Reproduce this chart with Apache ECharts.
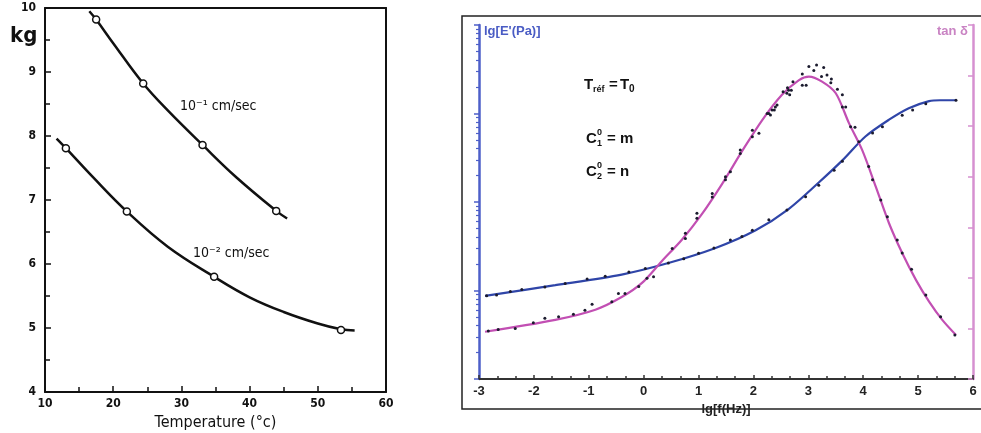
<!DOCTYPE html>
<html><head><meta charset="utf-8">
<script src="https://cdn.jsdelivr.net/npm/echarts@6/dist/echarts.min.js"></script>
<style>html,body{margin:0;padding:0;background:#fff}#c{width:981px;height:433px}</style>
</head><body><div id="c"></div>
<script>
// ---------- Left chart: force (kg) vs temperature ----------
var tempTicks = [10, 20, 30, 40, 50, 60];
var kgTicks = [4, 5, 6, 7, 8, 9, 10];
var upperCurveT = [16.5, 17.5, 20, 24.4, 28, 33.1, 38, 43.9, 45.5];
var upperCurveKg = [9.95, 9.82, 9.45, 8.82, 8.40, 7.86, 7.36, 6.83, 6.71];
var upperMarkT = [17.5, 24.4, 33.1, 43.9];
var upperMarkKg = [9.82, 8.82, 7.86, 6.83];
var lowerCurveT = [11.7, 13.06, 17, 22, 28, 34.8, 40, 45, 50, 53.4, 55.4];
var lowerCurveKg = [7.96, 7.81, 7.36, 6.82, 6.27, 5.80, 5.48, 5.25, 5.07, 4.98, 4.96];
var lowerMarkT = [13.06, 22, 34.8, 53.4];
var lowerMarkKg = [7.81, 6.82, 5.80, 4.97];

// ---------- Right chart: master curves vs lg f ----------
var freqTicks = [-3, -2, -1, 0, 1, 2, 3, 4, 5, 6];
var blueX = [-2.89, -1.61, -0.40, 0.45, 1.31, 2.04, 2.64, 3.19, 3.62, 4.04, 4.47, 4.83, 5.2, 5.4, 5.69];
var blueLgE = [6.94, 7.06, 7.18, 7.31, 7.48, 7.68, 7.92, 8.22, 8.47, 8.74, 8.93, 9.06, 9.14, 9.15, 9.15];
var pinkX = [-2.89, -1.61, -0.88, -0.40, -0.03, 0.33, 0.70, 1.06, 1.43, 1.79, 2.16, 2.52, 2.83, 3.01, 3.25, 3.50, 3.74, 3.98, 4.23, 4.47, 4.71, 4.96, 5.20, 5.44, 5.69];
var pinkTan = [0.0935, 0.117, 0.137, 0.162, 0.190, 0.233, 0.276, 0.326, 0.386, 0.450, 0.512, 0.562, 0.591, 0.598, 0.588, 0.565, 0.506, 0.453, 0.380, 0.308, 0.249, 0.196, 0.153, 0.117, 0.087];
var blueDotX = [-2.86, -2.68, -2.43, -2.22, -1.80, -1.43, -1.03, -0.70, -0.27, 0.03, 0.45, 0.73, 1.0, 1.28, 1.58, 1.79, 1.98, 2.28, 2.61, 2.95, 3.19, 3.47, 3.62, 3.92, 4.17, 4.35, 4.71, 4.90, 5.14, 5.69];
var blueDotE = [6.94, 6.95, 6.99, 7.01, 7.04, 7.08, 7.13, 7.16, 7.21, 7.25, 7.31, 7.36, 7.42, 7.48, 7.57, 7.61, 7.68, 7.80, 7.91, 8.06, 8.19, 8.36, 8.46, 8.68, 8.78, 8.85, 8.98, 9.04, 9.11, 9.15];
var pinkDotX = [-2.83, -2.65, -2.34, -2.01, -1.80, -1.55, -1.28, -1.07, -0.94, -0.58, -0.46, -0.34, -0.09, 0.06, 0.18, 0.52, 0.76, 0.76, 0.97, 0.97, 1.25, 1.25, 1.49, 1.49, 1.58, 1.76, 1.76, 1.98, 1.98, 2.10, 2.25, 2.28, 2.31, 2.34, 2.38, 2.40, 2.43, 2.54, 2.61, 2.62, 2.64, 2.66, 2.69, 2.72, 2.89, 2.89, 2.96, 3.01, 3.10, 3.15, 3.24, 3.28, 3.34, 3.41, 3.42, 3.53, 3.62, 3.62, 3.68, 3.77, 3.85, 4.10, 4.17, 4.32, 4.44, 4.62, 4.71, 4.88, 5.14, 5.41, 5.67];
var pinkDotTan = [0.095, 0.098, 0.100, 0.111, 0.120, 0.123, 0.128, 0.136, 0.148, 0.153, 0.169, 0.169, 0.183, 0.199, 0.202, 0.258, 0.288, 0.278, 0.328, 0.318, 0.367, 0.360, 0.394, 0.400, 0.410, 0.446, 0.453, 0.479, 0.492, 0.486, 0.525, 0.525, 0.522, 0.532, 0.532, 0.538, 0.542, 0.568, 0.565, 0.576, 0.571, 0.562, 0.571, 0.588, 0.581, 0.603, 0.581, 0.618, 0.610, 0.621, 0.598, 0.616, 0.601, 0.586, 0.593, 0.573, 0.562, 0.538, 0.538, 0.499, 0.498, 0.420, 0.394, 0.354, 0.321, 0.275, 0.249, 0.217, 0.166, 0.123, 0.087];
var lgETicks = [6, 7, 8, 9, 10];
var tanTicks = [0, 0.1, 0.2, 0.3, 0.4, 0.5, 0.6, 0.7];

function zip(a, b) { return a.map(function (v, i) { return [v, b[i]]; }); }
var lgEMinor = [];
lgETicks.slice(0, -1).forEach(function (d) {
  [2, 3, 4, 5, 6, 7, 8, 9].forEach(function (k) { lgEMinor.push(d + Math.log10(k)); });
});

var BLUE = '#2f45a8', BLUE_AX = '#4d5fc9', PINK = '#c24fb3', PINK_AX = '#d690d0';
var leftFont = '"DejaVu Sans Condensed","DejaVu Sans",sans-serif';
var rightFont = '"Liberation Sans",Arial,sans-serif';

var chart = echarts.init(document.getElementById('c'), null, {renderer: 'canvas'});
chart.setOption({
  animation: false,
  backgroundColor: '#fff',
  grid: [
    {left: 45, top: 8, right: 595, bottom: 41, containLabel: false, outerBoundsMode: 'none'},
    {left: 479, top: 25, right: 8, bottom: 54, containLabel: false, outerBoundsMode: 'none'}
  ],
  xAxis: [
    {gridIndex: 0, type: 'value', min: tempTicks[0], max: tempTicks[tempTicks.length - 1], interval: 10,
     name: 'Temperature (°c)', nameLocation: 'middle', nameGap: 21,
     nameTextStyle: {fontFamily: leftFont, fontSize: 16, color: '#111'},
     axisLine: {onZero: false, lineStyle: {color: '#111', width: 2}},
     axisTick: {inside: true, length: 6, lineStyle: {color: '#111', width: 1.5}},
     minorTick: {show: true, splitNumber: 2, length: 5, lineStyle: {color: '#111', width: 1.5}},
     axisLabel: {fontFamily: leftFont, fontWeight: 'bold', fontSize: 12, color: '#111', margin: 6},
     splitLine: {show: false}},
    {gridIndex: 0, type: 'value', position: 'top', min: 10, max: 60,
     axisLine: {onZero: false, lineStyle: {color: '#111', width: 2}}, axisTick: {show: false}, axisLabel: {show: false}, splitLine: {show: false}},
    {gridIndex: 1, type: 'value', min: freqTicks[0], max: freqTicks[freqTicks.length - 1], interval: 1,
     name: 'lg[f(Hz)]', nameLocation: 'middle', nameGap: 17,
     nameTextStyle: {fontFamily: rightFont, fontWeight: 'bold', fontSize: 13, color: '#222'},
     axisLine: {onZero: false, lineStyle: {color: '#333', width: 2}},
     axisTick: {inside: true, length: 4, lineStyle: {color: '#333', width: 1.5}},
     minorTick: {show: true, splitNumber: 3, length: 3, lineStyle: {color: '#333', width: 1.5}},
     axisLabel: {fontFamily: rightFont, fontWeight: 'bold', fontSize: 13, color: '#222', margin: 6},
     splitLine: {show: false}}
  ],
  yAxis: [
    {gridIndex: 0, type: 'value', min: kgTicks[0], max: kgTicks[kgTicks.length - 1], interval: 1,
     axisLine: {onZero: false, lineStyle: {color: '#111', width: 2}},
     axisTick: {inside: true, length: 6, lineStyle: {color: '#111', width: 1.5}},
     minorTick: {show: true, splitNumber: 2, length: 5, lineStyle: {color: '#111', width: 1.5}},
     axisLabel: {fontFamily: leftFont, fontWeight: 'bold', fontSize: 12, color: '#111', margin: 9},
     splitLine: {show: false}},
    {gridIndex: 0, type: 'value', position: 'right', min: 4, max: 10,
     axisLine: {show: true, onZero: false, lineStyle: {color: '#111', width: 2}}, axisTick: {show: false}, axisLabel: {show: false}, splitLine: {show: false}},
    {gridIndex: 1, type: 'value', position: 'left', min: lgETicks[0], max: lgETicks[lgETicks.length - 1], interval: 1,
     axisLine: {show: true, onZero: false, lineStyle: {color: BLUE_AX, width: 2.5}},
     axisTick: {show: true, inside: false, length: 5, lineStyle: {color: BLUE_AX, width: 1.5}},
     axisLabel: {show: false}, splitLine: {show: false}},
    {gridIndex: 1, type: 'value', position: 'left', min: lgETicks[0], max: lgETicks[lgETicks.length - 1],
     axisLine: {show: false, onZero: false},
     axisTick: {show: true, inside: false, length: 3, customValues: lgEMinor, lineStyle: {color: BLUE_AX, width: 1.2}},
     axisLabel: {show: false}, splitLine: {show: false}},
    {gridIndex: 1, type: 'value', position: 'right', min: tanTicks[0], max: tanTicks[tanTicks.length - 1], interval: 0.1,
     axisLine: {show: true, onZero: false, lineStyle: {color: PINK_AX, width: 2.5}},
     axisTick: {show: true, inside: true, length: 5, lineStyle: {color: PINK_AX, width: 1.5}},
     axisLabel: {show: false}, splitLine: {show: false}}
  ],
  series: [
    {type: 'line', xAxisIndex: 0, yAxisIndex: 0, smooth: 0.4, showSymbol: false, symbol: 'none',
     lineStyle: {color: '#111', width: 2.5}, data: zip(upperCurveT, upperCurveKg), z: 3},
    {type: 'line', xAxisIndex: 0, yAxisIndex: 0, smooth: 0.4, showSymbol: false, symbol: 'none',
     lineStyle: {color: '#111', width: 2.5}, data: zip(lowerCurveT, lowerCurveKg), z: 3},
    {type: 'scatter', xAxisIndex: 0, yAxisIndex: 0, symbol: 'circle', symbolSize: 7,
     itemStyle: {color: '#fff', borderColor: '#111', borderWidth: 1.5, opacity: 1}, data: zip(upperMarkT, upperMarkKg), z: 4},
    {type: 'scatter', xAxisIndex: 0, yAxisIndex: 0, symbol: 'circle', symbolSize: 7,
     itemStyle: {color: '#fff', borderColor: '#111', borderWidth: 1.5, opacity: 1}, data: zip(lowerMarkT, lowerMarkKg), z: 4},
    {type: 'line', xAxisIndex: 2, yAxisIndex: 2, smooth: 0.3, showSymbol: false, symbol: 'none',
     lineStyle: {color: BLUE, width: 2.2}, data: zip(blueX, blueLgE), z: 3},
    {type: 'line', xAxisIndex: 2, yAxisIndex: 4, smooth: 0.3, showSymbol: false, symbol: 'none',
     lineStyle: {color: PINK, width: 2.2}, data: zip(pinkX, pinkTan), z: 3},
    {type: 'scatter', xAxisIndex: 2, yAxisIndex: 2, symbol: 'circle', symbolSize: 3,
     itemStyle: {color: '#1b1b2e', opacity: 1}, data: zip(blueDotX, blueDotE), z: 4},
    {type: 'scatter', xAxisIndex: 2, yAxisIndex: 4, symbol: 'circle', symbolSize: 3,
     itemStyle: {color: '#1b1b2e', opacity: 1}, data: zip(pinkDotX, pinkDotTan), z: 4}
  ],
  graphic: [
    {type: 'rect', z: 0, silent: true, shape: {x: 462, y: 16, width: 540, height: 393},
     style: {fill: 'none', stroke: '#222', lineWidth: 1.5}},
    {type: 'text', x: 10, y: 36, style: {text: 'kg', font: 'bold 22px ' + leftFont, fill: '#111', verticalAlign: 'middle'}},
    {type: 'text', x: 180, y: 106, style: {text: '10⁻¹ cm/sec', font: '14px ' + leftFont, fill: '#111', verticalAlign: 'middle'}},
    {type: 'text', x: 193, y: 253, style: {text: '10⁻² cm/sec', font: '14px ' + leftFont, fill: '#111', verticalAlign: 'middle'}},
    {type: 'text', x: 484, y: 31, style: {text: "lg[E'(Pa)]", font: 'bold 13px ' + rightFont, fill: '#4a5cc4', verticalAlign: 'middle'}},
    {type: 'text', x: 968, y: 31, style: {text: 'tan δ', font: 'bold 13px ' + rightFont, fill: '#c983c3', align: 'right', verticalAlign: 'middle'}},
    // T_réf = T_0
    {type: 'text', x: 584, y: 85, style: {text: 'T', font: 'bold 15px ' + rightFont, fill: '#111', verticalAlign: 'middle'}},
    {type: 'text', x: 593, y: 90, style: {text: 'réf', font: 'bold 9px ' + rightFont, fill: '#111', verticalAlign: 'middle'}},
    {type: 'text', x: 609, y: 85, style: {text: '=', font: 'bold 15px ' + rightFont, fill: '#111', verticalAlign: 'middle'}},
    {type: 'text', x: 620, y: 85, style: {text: 'T', font: 'bold 15px ' + rightFont, fill: '#111', verticalAlign: 'middle'}},
    {type: 'text', x: 629, y: 89, style: {text: '0', font: 'bold 10px ' + rightFont, fill: '#111', verticalAlign: 'middle'}},
    // C1^0 = m
    {type: 'text', x: 586, y: 139, style: {text: 'C', font: 'bold 15px ' + rightFont, fill: '#111', verticalAlign: 'middle'}},
    {type: 'text', x: 597, y: 133, style: {text: '0', font: 'bold 9px ' + rightFont, fill: '#111', verticalAlign: 'middle'}},
    {type: 'text', x: 597, y: 144, style: {text: '1', font: 'bold 9px ' + rightFont, fill: '#111', verticalAlign: 'middle'}},
    {type: 'text', x: 607, y: 139, style: {text: '= m', font: 'bold 15px ' + rightFont, fill: '#111', verticalAlign: 'middle'}},
    // C2^0 = n
    {type: 'text', x: 586, y: 172, style: {text: 'C', font: 'bold 15px ' + rightFont, fill: '#111', verticalAlign: 'middle'}},
    {type: 'text', x: 597, y: 166, style: {text: '0', font: 'bold 9px ' + rightFont, fill: '#111', verticalAlign: 'middle'}},
    {type: 'text', x: 597, y: 177, style: {text: '2', font: 'bold 9px ' + rightFont, fill: '#111', verticalAlign: 'middle'}},
    {type: 'text', x: 607, y: 172, style: {text: '= n', font: 'bold 15px ' + rightFont, fill: '#111', verticalAlign: 'middle'}}
  ]
});
</script></body></html>
